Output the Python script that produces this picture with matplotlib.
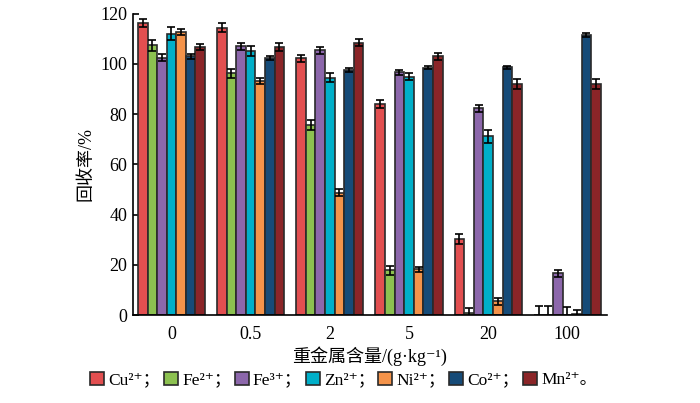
import numpy as np
import matplotlib.pyplot as plt

plt.rcParams['font.family'] = ['Liberation Serif', 'DejaVu Serif', 'Noto Sans CJK SC']

groups = ['0', '0.5', '2', '5', '20', '100']
ions = ['Cu²⁺；', 'Fe²⁺；', 'Fe³⁺；', 'Zn²⁺；', 'Ni²⁺；', 'Co²⁺；', 'Mn²⁺。']
colors = ['#E24F50', '#8CC150', '#8C67AB', '#00AFC9', '#F4934A', '#164B78', '#8B2528']

# recovery (%) for each ion, one value per content group
cu = [116.3, 114.5, 102.2, 84.0, 30.5, 0.0]
fe2 = [107.5, 96.2, 75.8, 17.8, 1.0, 0.0]
fe3 = [102.4, 107.0, 105.5, 96.6, 82.3, 16.6]
zn = [112.0, 105.0, 94.6, 95.0, 71.2, 0.0]
ni = [112.6, 93.2, 48.8, 18.3, 5.5, 0.6]
co = [103.0, 102.3, 97.7, 98.5, 98.6, 111.4]
mn = [106.7, 106.7, 108.5, 103.1, 92.0, 92.0]

cu_err = [1.6, 1.6, 1.3, 1.5, 2.0, 3.5]
fe2_err = [2.2, 1.8, 2.0, 1.8, 1.8, 3.8]
fe3_err = [1.4, 1.3, 1.4, 1.0, 1.3, 1.3]
zn_err = [2.6, 2.0, 1.8, 1.5, 2.6, 3.3]
ni_err = [1.2, 1.2, 1.5, 1.0, 1.3, 1.6]
co_err = [0.9, 0.8, 0.8, 0.6, 0.6, 0.8]
mn_err = [1.3, 1.5, 1.3, 1.4, 2.0, 2.0]

values = [cu, fe2, fe3, zn, ni, co, mn]
errors = [cu_err, fe2_err, fe3_err, zn_err, ni_err, co_err, mn_err]

fig = plt.figure(figsize=(7, 4.03), dpi=100)
ax = fig.add_axes([0.19, 0.218, 0.677, 0.748])

x = np.arange(len(groups))
w = 0.121
handles = []
for i in range(len(ions)):
    pos = x + (i - 3) * w
    b = ax.bar(pos, values[i], width=w, color=colors[i], edgecolor='#2a2a2a',
               linewidth=1.2, label=ions[i], zorder=2)
    handles.append(b)
    ax.errorbar(pos, values[i], yerr=errors[i], fmt='none', ecolor='black',
                elinewidth=1.2, capsize=3, capthick=1.2, zorder=3)

ax.set_xlim(-0.486, 5.5)
ax.set_ylim(0, 120)
ax.set_yticks(range(0, 121, 20))
ax.set_xticks(x)
ax.set_xticklabels(groups)
ax.tick_params(axis='x', length=0, labelsize=13, pad=8)
ax.tick_params(axis='y', direction='in', length=4, width=1.2, labelsize=13, pad=4)
for s in ['top', 'right']:
    ax.spines[s].set_visible(False)
for s in ['left', 'bottom']:
    ax.spines[s].set_linewidth(1.2)

ax.set_ylabel('回收率/%', fontsize=13, labelpad=4)
ax.set_xlabel('重金属含量/(g·kg⁻¹)', fontsize=13, labelpad=2)

fig.legend(handles=handles, labels=ions, loc='center', bbox_to_anchor=(0.491, 0.057),
           ncol=7, frameon=False, fontsize=12.5, handlelength=0.8, handleheight=0.8,
           handletextpad=0.25, columnspacing=0.2)

fig.savefig('out.png', dpi=100)
